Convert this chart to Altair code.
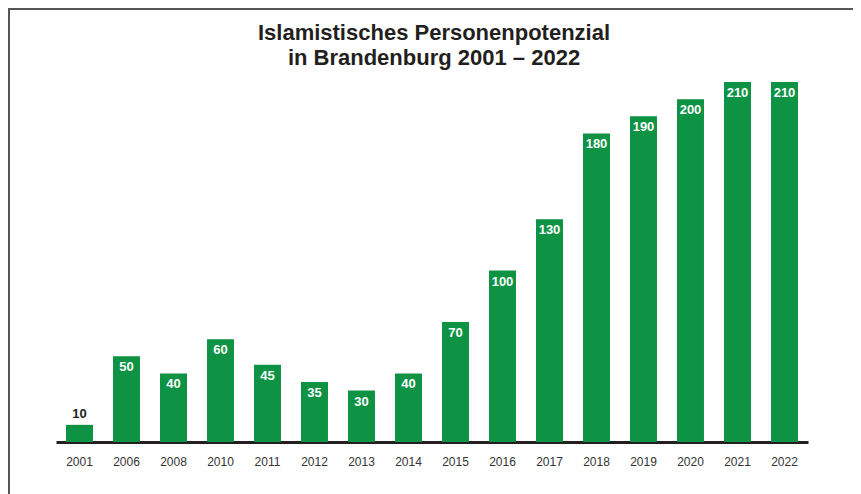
import altair as alt
import pandas as pd

years = ["2001", "2006", "2008", "2010", "2011", "2012", "2013", "2014",
         "2015", "2016", "2017", "2018", "2019", "2020", "2021", "2022"]
values = [10, 50, 40, 60, 45, 35, 30, 40, 70, 100, 130, 180, 190, 200, 210, 210]
title_lines = ["Islamistisches Personenpotenzial", "in Brandenburg 2001 – 2022"]

df = pd.DataFrame({"year": years, "value": values})

GREEN = "#0e9345"
FONT = "Liberation Sans"

x = alt.X("year:N", sort=years, title=None,
          scale=alt.Scale(paddingInner=0.426, paddingOuter=0.213),
          axis=alt.Axis(labelAngle=0, labelFontSize=12, labelColor="#333333",
                        labelFont=FONT, ticks=False, domain=True,
                        domainColor="#231f20", domainWidth=3, labelPadding=14))
y = alt.Y("value:Q", title=None, axis=None,
          scale=alt.Scale(domain=[0, 210], nice=False, zero=True))

base = alt.Chart(df)

bars = base.mark_bar(color=GREEN).encode(x=x, y=y)

labels_in = base.transform_filter("datum.value > 15").mark_text(
    color="white", fontWeight="bold", fontSize=13, font=FONT,
    baseline="alphabetic", dy=15
).encode(x=x, y=y, text="value:Q")

labels_out = base.transform_filter("datum.value <= 15").mark_text(
    color="#231f20", fontWeight="bold", fontSize=13, font=FONT,
    baseline="alphabetic", dy=-7
).encode(x=x, y=y, text="value:Q")

one = pd.DataFrame({"a": [0]})

border_left = alt.Chart(one).mark_rule(
    color="#555555", strokeWidth=2
).encode(x=alt.value(-47), y=alt.value(-73), y2=alt.value(420))

border_top = alt.Chart(one).mark_rule(
    color="#555555", strokeWidth=2
).encode(y=alt.value(-73), x=alt.value(-48), x2=alt.value(800))

title1 = alt.Chart(pd.DataFrame({"t": [title_lines[0]]})).mark_text(
    fontSize=22, font=FONT, fontWeight="bold", color="#231f20",
    align="center", baseline="alphabetic"
).encode(x=alt.value(378), y=alt.value(-42), text="t:N")

title2 = alt.Chart(pd.DataFrame({"t": [title_lines[1]]})).mark_text(
    fontSize=22, font=FONT, fontWeight="bold", color="#231f20",
    align="center", baseline="alphabetic"
).encode(x=alt.value(378), y=alt.value(-17), text="t:N")

chart = alt.layer(border_left, border_top, title1, title2, bars, labels_in, labels_out).properties(
    width=752, height=360,
    background="white",
    autosize=alt.AutoSizeParams(type="none"),
    padding={"left": 48, "top": 74, "right": 45, "bottom": 52},
).configure_view(strokeOpacity=0, strokeWidth=0)

chart.save("out.html", embed_options={"renderer": "svg", "actions": False})
